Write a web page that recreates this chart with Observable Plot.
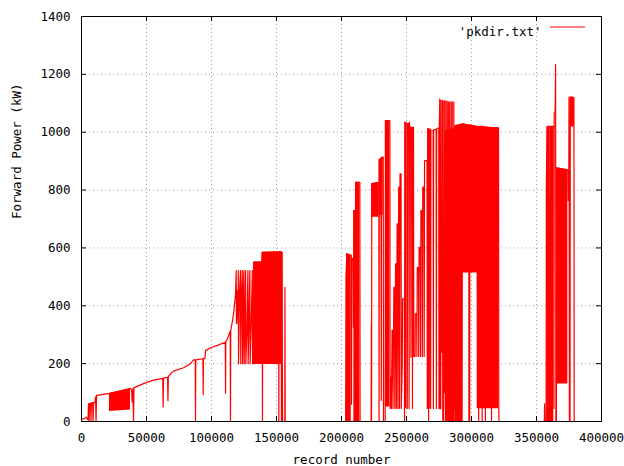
<!DOCTYPE html>
<html><head><meta charset="utf-8">
<script src="https://cdn.jsdelivr.net/npm/d3@7"></script>
<script src="https://cdn.jsdelivr.net/npm/@observablehq/plot@0.6"></script>
<style>
body{margin:0;background:#fff;}
#wrap{position:relative;width:624px;height:466px;}
</style></head><body>
<div id="wrap"></div>
<script>
const xTicks = [0,50000,100000,150000,200000,250000,300000,350000,400000];
const yTicks = [0,200,400,600,800,1000,1200,1400];
const seriesName = "'pkdir.txt'";
const xLabel = "record number";
const yLabel = "Forward Power (kW)";

// main trace, [record, kW]
const rampUp = [[0,8],[2300,10],[3800,15],[4600,8],[5000,5],[5400,62],[5800,0],[6200,62],[7000,64],[7300,0],[7700,64],[8600,65],[8900,0],[9300,65],[10400,66],[10800,85],[11200,0],[11600,90],[12300,90],[21500,97],[37700,114],[38500,110],[39000,67],[39600,114],[40000,0],[40400,117],[41500,119],[47700,131],[54600,142],[62500,149],[62800,50],[63100,150],[66200,153],[66500,72],[66800,155],[68500,165],[70800,174],[78500,186],[83800,200],[86200,213],[87500,213],[87700,0],[87900,213],[93400,217],[93600,93],[93800,217],[95000,218],[95400,245],[99200,255],[104600,263],[110600,274],[110800,98],[111000,276],[112300,286],[114400,312],[114600,0],[114800,315],[116200,349],[117200,380],[118000,418]];
const firstBurst = [[118500,440],[119000,522],[119200,339],[119800,453],[120400,339],[120600,522],[120800,200],[121600,453],[122300,522],[122500,200],[123000,420],[123700,522],[123900,200],[124400,400],[124900,522],[125100,200],[125700,360],[126200,522],[126400,200],[127200,300],[128000,522],[128200,200],[129500,522],[129700,200],[130500,330],[131400,522],[131600,200],[132400,200],[132500,551],[138800,551],[139000,585],[139200,0],[139400,585],[151600,585],[151800,0],[152000,585],[153600,585],[153800,0],[154000,585],[154400,585],[154500,197],[154700,0],[156400,0],[156500,464],[156700,0],[203200,0]];
const secondBurst = [[203600,500],[204000,580],[205500,578],[205700,0],[206000,575],[207500,575],[207700,60],[208000,563],[209000,563],[209200,326],[209500,729],[210800,729],[211000,827],[214100,827],[214300,0],[222800,0],[223000,339],[223100,0],[223300,822],[228700,827],[228900,0],[229100,905],[230400,910],[230600,73],[230800,914],[232100,914],[232300,0],[233600,0],[233800,1040],[237200,1040],[237400,45],[237700,153],[238200,153],[238400,45],[238900,315],[239400,315],[239600,45],[240300,464],[240800,464],[241000,45],[241600,545],[242000,545],[242200,45],[242800,683],[243200,683],[243400,45],[244000,810],[244400,810],[244600,45],[245000,856],[245800,856],[246000,45],[246700,188],[247000,424],[248300,424],[248500,0],[248800,1035],[250400,1030],[250600,45],[250900,1030],[251800,1030],[252000,45],[252300,1035],[252500,1017],[253200,1017],[253400,222],[253600,1017],[254400,1017],[254600,45],[254800,1017],[255400,1017],[255600,225],[256600,225],[256800,372],[257800,372],[258000,225],[258300,533],[259200,533],[259400,225],[259700,602],[260600,602],[260800,225],[261100,729],[262000,729],[262200,225],[262500,810],[263400,810],[263600,225],[263900,902],[265800,902],[266000,45]];
const thirdBurst = [[266300,1012],[266600,45],[266800,1012],[267000,0],[267200,1012],[267400,45],[267600,1010],[268400,1010],[268600,45],[268800,1005],[270500,1005],[270700,45],[270900,1008],[272800,1010],[273000,45],[273200,1012],[274800,1015],[275000,45],[275200,1010],[275600,1115],[275800,44],[276400,44],[276600,1110],[276800,240],[277500,240],[277700,1110],[277900,0],[278600,0],[278800,1108],[279000,100],[279600,100],[279800,1108],[280000,44],[280800,44],[281000,1108],[281200,30],[281800,30],[282000,1105],[282200,400],[282800,500],[283000,1105],[283200,40],[284000,40],[284200,1105],[284400,150],[285000,150],[285200,1105],[285400,44],[286200,44],[286400,1105],[286600,40],[287200,40],[287400,1023],[288000,0],[288400,1023],[289500,0],[290000,1025],[291000,0],[291500,1026],[292500,0],[293000,1029],[297900,1025],[298000,0],[298200,1025],[298600,0],[298800,1025],[304400,1020],[305500,0],[305800,1020],[308000,1020],[308200,0],[308400,1020],[310500,1018],[310700,0],[310900,1018],[315200,1016],[315400,0],[315600,1016],[320800,1015],[321000,44],[321200,0],[356000,0]];
const lastBurst = [[356200,61],[356400,0],[357400,0],[357600,827],[358200,1020],[360600,1020],[360700,775],[361200,775],[361300,1020],[363300,1020],[363400,45],[363600,1069],[364300,1069],[364500,1133],[364700,1234],[364900,0],[365300,0],[365400,877],[374100,870],[374300,764],[374800,764],[375000,1121],[375300,0],[375800,0],[376000,1121],[377500,1121],[377700,1020],[377900,1121],[378800,1119],[379000,0],[380000,0]];

// dense (filled) stretches, [record, low kW, high kW]
const blockEarly = [[21500,35,97],[37700,40,114]];
const blockMid = [[132500,197,551],[138800,197,551],[139000,197,585],[154400,197,588]];
const blockA = [[203600,0,500],[204100,0,580],[207500,0,575]];
const blockB = [[209500,0,729],[210700,0,729],[210900,0,827],[214100,0,827]];
const blockC = [[223300,706,822],[228700,706,827]];
const blockD = [[228900,713,905],[232100,713,914]];
const blockE = [[233800,50,1040],[237200,50,1040]];
const blockF = [[248800,45,1035],[250400,45,1030]];
const blockG = [[266300,45,1012],[268300,45,1010]];
const blockH0 = [[280000,0,1005],[287500,0,1015]];
const blockH = [[287500,0,1023],[293500,0,1029],[293600,513,1029],[304300,513,1020],[304400,44,1020],[321000,44,1015]];
const blockJ = [[357800,0,827],[358200,0,1020],[360600,0,1020],[360700,0,775],[361200,0,775],[361300,0,1020],[363300,0,1020]];
const blockL = [[365400,130,877],[374100,130,870]];
const blockM = [[376200,1020,1121],[379000,1020,1119]];

const trace = [...rampUp, ...firstBurst, ...secondBurst, ...thirdBurst, ...lastBurst]
  .map(([record, kw]) => ({record, kw}));
const blocks = Object.entries({blockEarly, blockMid, blockA, blockB, blockC, blockD, blockE, blockF, blockG, blockH0, blockH, blockJ, blockL, blockM})
  .flatMap(([id, pts]) => pts.map(([record, lo, hi]) => ({id, record, lo, hi})));

const W = 624, H = 466, mL = 81, mR = 23, mT = 16, mB = 45;
const fw = W - mL - mR, fh = H - mT - mB;
const red = "#ff0000";
const gridStyle = {stroke: "#a0a0a0", strokeOpacity: 1, strokeDasharray: "1,3"};

const chart = Plot.plot({
  width: W, height: H,
  marginLeft: mL, marginRight: mR, marginTop: mT, marginBottom: mB,
  style: {fontFamily: "'DejaVu Sans Mono', monospace", fontSize: "12.5px", background: "#fff", color: "#000"},
  x: {domain: [0, 400000]},
  y: {domain: [0, 1400]},
  marks: [
    Plot.gridX(xTicks, gridStyle),
    Plot.gridY(yTicks, gridStyle),
    Plot.areaY(blocks, {x: "record", y1: "lo", y2: "hi", z: "id", fill: red, clip: true}),
    Plot.line(trace, {x: "record", y: "kw", stroke: red, strokeWidth: 1.2, clip: true}),
    Plot.ruleX(xTicks, {stroke: "#000", insetTop: fh - 5}),
    Plot.ruleX(xTicks, {stroke: "#000", insetBottom: fh - 5}),
    Plot.ruleY(yTicks, {stroke: "#000", insetRight: fw - 5}),
    Plot.ruleY(yTicks, {stroke: "#000", insetLeft: fw - 5}),
    Plot.frame({stroke: "#000"}),
    Plot.axisX(xTicks, {tickSize: 0, tickPadding: 12, tickFormat: d => String(d), label: null}),
    Plot.axisY(yTicks, {tickSize: 0, tickPadding: 11, tickFormat: d => String(d), label: null}),
    Plot.text([xLabel], {text: d => d, frameAnchor: "bottom", dy: 42}),
    Plot.text([yLabel], {text: d => d, frameAnchor: "left", dx: -65, rotate: -90}),
    Plot.text([seriesName], {text: d => d, frameAnchor: "top-right", dx: -60, dy: 11, textAnchor: "end"})
  ]
});
// legend key sample
const svg = d3.select(chart);
svg.append("line")
  .attr("x1", W - mR - 51).attr("x2", W - mR - 16)
  .attr("y1", mT + 11).attr("y2", mT + 11)
  .attr("stroke", red).attr("stroke-width", 1.2);
document.getElementById("wrap").appendChild(chart);
</script>
</body></html>
